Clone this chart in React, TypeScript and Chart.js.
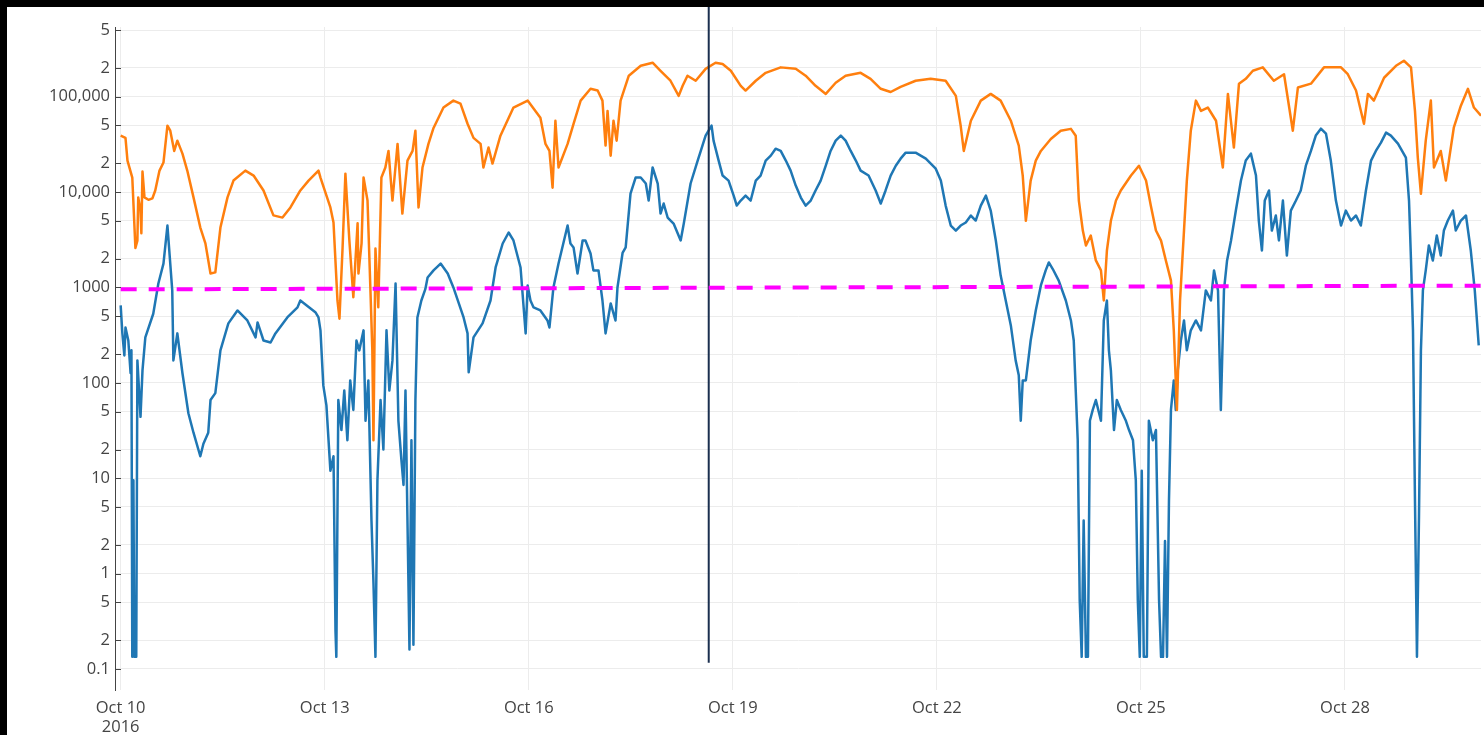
import React, { useEffect, useRef } from 'react';
import { Chart, registerables } from 'chart.js';

Chart.register(...registerables);

// x values are hours since Oct 10 2016 00:00
const xTickHours = [0, 72, 144, 216, 288, 360, 432];
const xTickLabels: (string | string[])[] = [['Oct 10', '2016'], 'Oct 13', 'Oct 16', 'Oct 19', 'Oct 22', 'Oct 25', 'Oct 28'];

const yTickValues = [0.1, 0.2, 0.5, 1, 2, 5, 10, 20, 50, 100, 200, 500, 1000, 2000, 5000, 10000, 20000, 50000, 100000, 200000, 500000];
const yTickLabels = ['0.1', '2', '5', '1', '2', '5', '10', '2', '5', '100', '2', '5', '1000', '2', '5', '10,000', '2', '5', '100,000', '2', '5'];

// [hour, value]
const orangeSeries: number[][] = [
  [0, 39000], [1.7, 37000], [2.4, 21400], [4.1, 14200], [5.2, 2600], [5.9, 3100], [6.2, 8800], [7.0, 6400], [7.3, 3700], [7.7, 16400],
  [8.4, 8800], [9.8, 8300], [11.2, 8600], [12.2, 10400], [13.7, 16800], [15.1, 20400], [16.5, 49700], [17.5, 44000], [18.9, 27000], [20.0, 34600],
  [21.8, 25300], [23.5, 16800], [25.7, 8800], [28.1, 4250], [29.9, 2900], [31.7, 1400], [33.4, 1440], [35.2, 4250], [37.7, 8800], [39.8, 13200],
  [44.0, 16800], [46.9, 14900], [50.4, 10400], [53.9, 5700], [57.1, 5400], [59.9, 6900], [63.4, 10400], [66.3, 13200], [69.8, 16800], [70.5, 14200],
  [74.0, 6900], [75.1, 4800], [76.5, 730], [77.2, 470], [78.3, 2600], [79.3, 15600], [80.7, 3100], [82.1, 790], [83.6, 4700], [83.9, 1400],
  [85.0, 2900], [85.7, 14200], [87.1, 8150], [88.1, 1000], [88.8, 220], [89.2, 25], [89.9, 2560], [90.9, 620], [92.0, 14200], [93.4, 18100],
  [94.5, 27000], [95.9, 8150], [97.7, 32000], [99.4, 5950], [101.2, 21400], [103.0, 27000], [104.0, 44000], [105.1, 6900], [106.5, 18100], [108.6, 32000],
  [110.4, 47000], [113.9, 77000], [117.4, 91000], [119.9, 84500], [122.4, 52000], [124.5, 37000], [127.0, 32000], [128.0, 18100], [129.8, 29300], [131.2, 19900],
  [134.0, 39000], [138.6, 77000], [143.6, 91000], [148.1, 60000], [149.9, 32000], [151.3, 27000], [152.4, 11100], [153.4, 56000], [154.5, 18100], [157.7, 32000],
  [159.8, 52000], [162.3, 91000], [165.8, 121000], [168.3, 116000], [170.0, 91000], [171.1, 30700], [171.8, 71000], [172.9, 24100], [173.9, 56000], [175.0, 34600],
  [176.4, 91000], [179.3, 166000], [183.5, 211000], [187.7, 227000], [190.5, 187000], [194.0, 147000], [196.9, 102000], [198.3, 130000], [200.0, 166000], [202.9, 147000],
  [206.4, 196000], [209.9, 227000], [212.4, 220000], [215.3, 187000], [218.8, 130000], [220.5, 116000], [224.1, 147000], [227.6, 178000], [232.9, 203000], [238.2, 196000],
  [241.7, 166000], [245.2, 130000], [248.8, 107000], [252.3, 140000], [255.8, 166000], [261.1, 178000], [264.6, 154000], [268.2, 121000], [271.7, 112000], [275.2, 127000],
  [280.5, 147000], [285.8, 154000], [291.1, 147000], [294.7, 102000], [296.4, 49700], [297.5, 27000], [300.0, 56000], [303.5, 91000], [307.0, 107000], [310.5, 91000],
  [314.1, 56000], [316.9, 30700], [318.3, 14900], [319.4, 5000], [321.1, 13200], [322.9, 21400], [324.7, 27000], [328.2, 36000], [331.7, 44000], [335.3, 46000],
  [337.0, 39000], [338.1, 8150], [339.5, 3950], [340.6, 2760], [342.3, 3500], [344.1, 1920], [345.9, 1510], [346.9, 730], [348.0, 2440], [349.4, 5000],
  [351.2, 8150], [352.9, 10400], [356.5, 14900], [359.3, 18900], [361.8, 13200], [363.5, 7200], [365.3, 3950], [367.1, 3100], [368.8, 1920], [370.6, 1180],
  [371.6, 355], [372.7, 52], [373.8, 730], [375.2, 3950], [376.2, 13200], [377.6, 44000], [379.4, 91000], [381.2, 71000], [383.6, 77000], [386.5, 56000],
  [388.9, 18100], [390.7, 107000], [392.8, 29300], [394.6, 137000], [397.0, 154000], [399.5, 187000], [403.0, 203000], [406.9, 147000], [410.5, 172000], [413.6, 44000],
  [415.4, 125000], [420.0, 137000], [424.6, 203000], [430.6, 203000], [433.0, 172000], [435.9, 116000], [438.7, 52000], [440.1, 107000], [442.2, 91000], [445.8, 158000],
  [450.0, 211000], [452.8, 238000], [455.3, 203000], [456.7, 71000], [457.7, 23000], [458.8, 9600], [460.5, 34600], [462.3, 91000], [463.4, 18100], [465.8, 27000],
  [467.6, 13200], [470.4, 47300], [472.9, 80500], [475.4, 121000], [477.5, 77000], [480.0, 63300],
];

const blueSeries: number[][] = [
  [0, 650], [0.6, 330], [1.3, 194], [1.7, 380], [2.7, 278], [3.5, 126], [3.8, 220], [4.1, 0.134], [4.5, 9.5], [4.8, 0.134],
  [5.2, 0.134], [5.5, 0.134], [5.9, 172], [7.0, 44], [7.7, 135], [8.7, 300], [11.5, 530], [13.3, 1100], [15.1, 1780], [16.5, 4460],
  [18.2, 930], [18.6, 172], [20.0, 330], [21.8, 126], [23.9, 48], [25.7, 30], [28.1, 17], [29.2, 23], [30.9, 30], [31.7, 66],
  [33.4, 78], [35.2, 219], [38.0, 420], [41.2, 574], [44.7, 451], [47.6, 300], [48.3, 430], [50.4, 278], [52.9, 265], [54.6, 330],
  [58.8, 485], [62.4, 618], [63.4, 730], [68.7, 550], [69.8, 485], [70.5, 355], [71.5, 94], [72.6, 58], [74.0, 12], [75.1, 17],
  [75.8, 0.25], [76.1, 0.134], [76.8, 66], [77.9, 32], [78.9, 83], [80.0, 25], [81.0, 106], [82.1, 52], [83.2, 278], [84.2, 219],
  [85.7, 355], [86.4, 40], [87.4, 106], [88.5, 3.6], [89.2, 0.8], [89.9, 0.134], [90.6, 9.5], [91.7, 66], [92.7, 20], [93.8, 355],
  [94.8, 83], [95.9, 172], [97.0, 1100], [98.0, 40], [99.1, 15], [99.8, 8.5], [100.5, 83], [101.2, 3.6], [101.9, 0.16], [102.6, 25],
  [103.3, 0.18], [104.0, 66], [104.7, 485], [106.1, 730], [107.5, 960], [108.3, 1270], [110.4, 1510], [112.9, 1780], [115.4, 1400], [117.4, 1000],
  [121.0, 485], [122.4, 330], [122.8, 129], [124.5, 300], [127.7, 420], [130.5, 730], [132.3, 1620], [134.8, 2890], [136.9, 3770], [138.6, 3110],
  [141.1, 1620], [142.9, 330], [143.6, 1050], [144.6, 730], [145.7, 618], [148.1, 574], [150.6, 451], [151.3, 381], [152.7, 1000], [154.5, 1780],
  [157.7, 4460], [158.7, 2890], [159.8, 2630], [161.2, 1400], [163.0, 3110], [164.0, 3110], [165.8, 2270], [166.8, 1510], [168.6, 1510], [170.0, 730],
  [171.1, 330], [172.9, 680], [174.6, 451], [175.3, 1000], [177.1, 2300], [178.2, 2630], [179.9, 9640], [181.7, 14200], [183.5, 14200], [185.3, 12300],
  [186.3, 8150], [187.7, 18100], [189.5, 12300], [190.5, 5950], [191.6, 7580], [193.0, 5410], [195.1, 4680], [197.6, 3110], [198.7, 4680], [201.1, 12300],
  [203.6, 21400], [204.7, 27000], [206.4, 39000], [208.5, 49700], [209.2, 34600], [211.0, 21400], [212.4, 14900], [214.5, 13200], [216.3, 9190], [217.4, 7220],
  [218.8, 8150], [220.5, 9190], [222.3, 8150], [224.1, 13200], [225.8, 14900], [227.6, 21400], [229.4, 24100], [231.1, 28500], [232.9, 27000], [234.7, 21400],
  [236.4, 16800], [238.2, 11700], [240.0, 8760], [241.7, 7220], [243.5, 8150], [245.2, 10400], [247.0, 13200], [248.8, 18900], [250.5, 27000], [252.3, 34600],
  [254.1, 39100], [255.8, 34600], [257.6, 27000], [259.4, 21400], [261.1, 16800], [263.9, 14900], [266.4, 10400], [268.2, 7580], [269.9, 10400], [271.7, 14900],
  [273.5, 18900], [275.2, 22400], [277.0, 25900], [280.5, 25900], [284.1, 22400], [287.6, 17600], [289.4, 13200], [291.1, 7220], [292.9, 4460], [294.7, 3950],
  [296.4, 4460], [298.2, 4800], [300.0, 5680], [301.7, 5030], [303.5, 7220], [305.3, 9190], [307.0, 6400], [308.8, 3110], [310.5, 1340], [312.3, 730],
  [314.1, 400], [315.8, 172], [316.9, 120], [317.6, 40], [318.3, 106], [319.4, 106], [321.1, 278], [322.9, 574], [324.7, 1050], [326.4, 1510],
  [327.5, 1830], [328.9, 1560], [331.0, 1180], [333.5, 730], [335.3, 451], [336.3, 278], [337.0, 83], [337.7, 25], [338.4, 0.53], [339.1, 0.134],
  [339.8, 3.6], [340.6, 0.134], [341.3, 0.134], [342.0, 40], [343.0, 52], [344.1, 66], [345.9, 40], [346.9, 451], [348.0, 730], [348.7, 219],
  [349.4, 135], [350.5, 32], [351.5, 66], [352.9, 52], [354.7, 40], [355.8, 32], [357.2, 25], [358.2, 9.5], [358.9, 0.53], [359.6, 0.134],
  [360.3, 12], [361.0, 0.134], [362.1, 0.134], [362.8, 40], [364.2, 25], [365.3, 32], [366.4, 0.53], [367.1, 0.134], [367.8, 0.134], [368.5, 2.2],
  [369.2, 0.134], [369.9, 5.9], [370.6, 52], [371.6, 106], [372.3, 52], [373.0, 135], [374.1, 278], [375.2, 451], [376.2, 219], [377.6, 355],
  [379.4, 451], [381.2, 355], [382.9, 931], [384.7, 730], [385.8, 1510], [387.2, 931], [388.2, 52], [389.3, 931], [390.4, 1920], [391.8, 3110],
  [393.5, 6400], [395.3, 13200], [397.0, 21400], [398.8, 25300], [400.6, 14900], [401.6, 5030], [402.7, 2440], [403.7, 8150], [405.2, 10400], [406.2, 3950],
  [407.6, 5680], [408.7, 3110], [410.1, 8150], [411.5, 2160], [412.9, 6400], [414.7, 8150], [416.4, 10400], [418.2, 18900], [420.0, 27000], [421.7, 39100],
  [423.5, 46200], [425.3, 41000], [427.0, 21400], [428.8, 8150], [430.6, 4460], [432.3, 6400], [434.1, 5030], [435.9, 5680], [437.6, 4460], [439.4, 10400],
  [441.2, 21400], [442.9, 27000], [444.7, 33000], [446.5, 42000], [448.2, 39100], [450.7, 32200], [453.5, 23000], [454.6, 8150], [455.3, 1920], [456.0, 355],
  [456.7, 5.9], [457.4, 0.134], [458.1, 3.6], [458.8, 219], [459.5, 931], [460.5, 1510], [461.6, 2760], [463.0, 1920], [464.4, 3500], [465.8, 2160],
  [466.9, 3950], [468.3, 5030], [470.1, 6400], [471.1, 3950], [472.9, 5030], [474.7, 5680], [476.4, 2440], [477.8, 931], [479.2, 247],
];

// dashed threshold line (start, end)
const thresholdSeries: number[][] = [[0, 955], [480, 1045]];
// vertical marker (Oct 18 ~15:30), from bottom value to above the top
const markerSeries: number[][] = [[207.5, 0.116], [207.5, 1000000]];

const FONT = '"Open Sans", verdana, arial, sans-serif';

const toPoints = (s: number[][]) => s.map(([x, y]) => ({ x, y }));

const innerTicks = {
  id: 'innerTicks',
  afterDatasetsDraw(chart: any) {
    const ys = chart.scales.y;
    const ctx = chart.ctx;
    const left = chart.chartArea.left;
    ctx.save();
    ctx.strokeStyle = '#444';
    ctx.lineWidth = 1;
    ys.ticks.forEach((t: any) => {
      const py = Math.round(ys.getPixelForValue(t.value)) + 0.5;
      ctx.beginPath();
      ctx.moveTo(left, py);
      ctx.lineTo(left + 6, py);
      ctx.stroke();
    });
    ctx.restore();
  },
};

export default function App() {
  const ref = useRef<HTMLCanvasElement>(null);
  useEffect(() => {
    document.body.style.margin = '0';
    document.body.style.background = '#000';
    const chart = new Chart(ref.current!, {
      type: 'line',
      data: {
        datasets: [
          {
            label: 'threshold',
            data: toPoints(thresholdSeries),
            borderColor: '#ff00ff',
            borderWidth: 4,
            borderDash: [16, 12],
            pointRadius: 0,
            order: 0,
          },
          {
            label: 'marker',
            data: toPoints(markerSeries),
            borderColor: '#1b2f4f',
            borderWidth: 2,
            pointRadius: 0,
            clip: false as any,
            order: 1,
          },
          {
            label: 'orange',
            data: toPoints(orangeSeries),
            borderColor: '#ff7f0e',
            borderWidth: 2.5,
            pointRadius: 0,
            tension: 0,
            borderJoinStyle: 'round',
            order: 2,
          },
          {
            label: 'blue',
            data: toPoints(blueSeries),
            borderColor: '#1f77b4',
            borderWidth: 2.5,
            pointRadius: 0,
            tension: 0,
            borderJoinStyle: 'round',
            order: 3,
          },
        ],
      },
      options: {
        animation: false,
        responsive: false,
        events: [],
        layout: { padding: { top: 20, right: 3, left: 0, bottom: 0 } },
        plugins: { legend: { display: false }, tooltip: { enabled: false } },
        scales: {
          x: {
            type: 'linear',
            min: -2,
            max: 480,
            afterBuildTicks: (s: any) => {
              s.ticks = xTickHours.map((v) => ({ value: v }));
            },
            afterFit: (s: any) => {
              s.height = 45;
            },
            ticks: {
              autoSkip: false,
              maxRotation: 0,
              color: '#444',
              padding: 9,
              font: { family: FONT, size: 16.5, lineHeight: 1.15 },
              callback: (_v: any, i: number) => xTickLabels[i],
            },
            grid: { color: '#ececec', drawTicks: false, lineWidth: 1 },
            border: { display: false },
          },
          y: {
            type: 'logarithmic',
            min: 0.0602,
            max: 538000,
            afterBuildTicks: (s: any) => {
              s.ticks = yTickValues.map((v) => ({ value: v }));
            },
            afterFit: (s: any) => {
              s.width = 108;
            },
            ticks: {
              autoSkip: false,
              color: '#444',
              padding: 5,
              font: { family: FONT, size: 16.5 },
              callback: (_v: any, i: number) => yTickLabels[i],
            },
            grid: { color: '#ececec', drawTicks: false, lineWidth: 1 },
            border: { display: true, color: '#444', width: 1 },
          },
        },
      },
      plugins: [innerTicks],
    } as any);
    return () => chart.destroy();
  }, []);
  return (
    <div style={{ position: 'fixed', left: 0, top: 0, width: 1484, height: 735, background: '#000' }}>
      <div style={{ position: 'absolute', left: 7, top: 7, width: 1477, height: 728, background: '#fff' }}>
        <canvas ref={ref} width={1477} height={728} style={{ display: 'block' }} />
      </div>
    </div>
  );
}
